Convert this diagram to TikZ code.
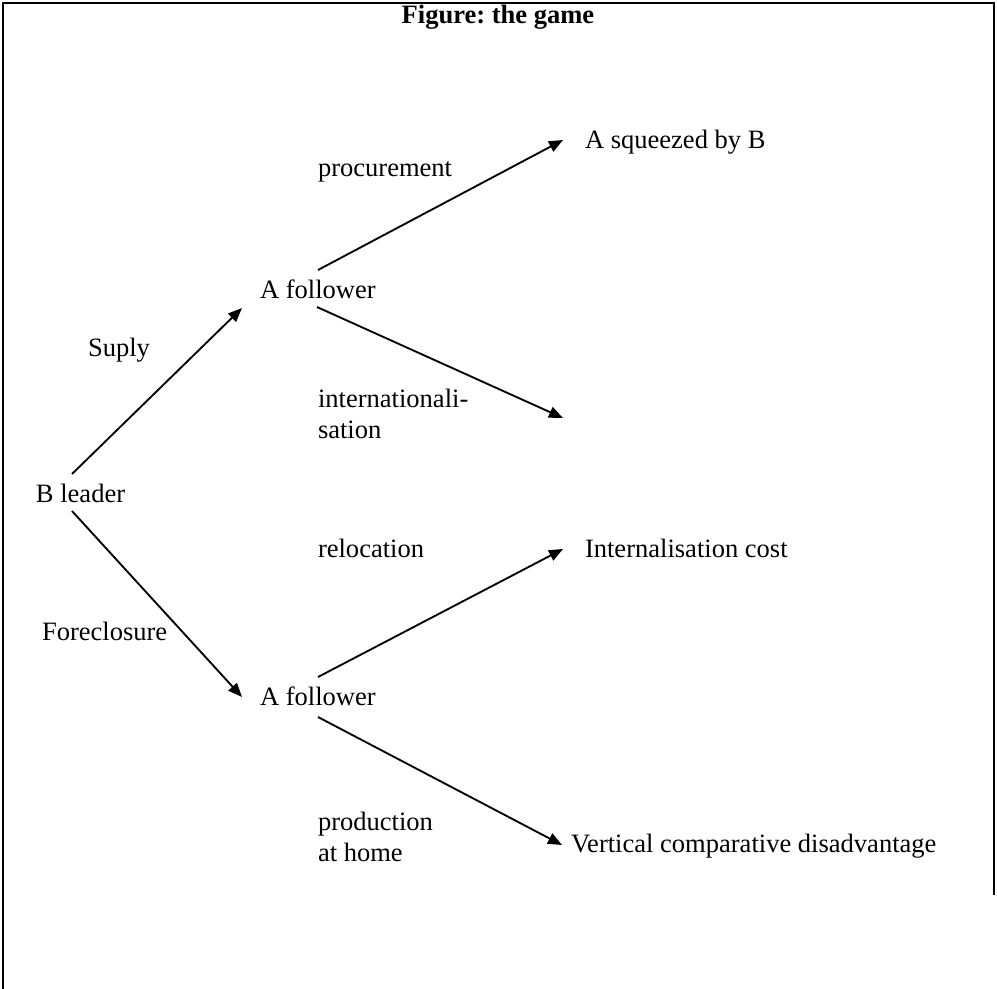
\documentclass[tikz,border=0pt]{standalone}
\usepackage{fontspec}
\setmainfont{Liberation Serif}
\usetikzlibrary{arrows.meta}
\frenchspacing

\begin{document}
\begin{tikzpicture}[x=0.75pt, y=-0.75pt, line width=1.4pt,
    every node/.style={inner sep=0pt, outer sep=0pt, anchor=base west, align=left,
      font=\fontsize{19.9pt}{23.25pt}\selectfont},
    arr/.style={-{Triangle[length=10.5pt, width=8.5pt]}}]
    \useasboundingbox (0, 0) rectangle (997, 989);
    % frame
    \draw[line width=1.6pt] (3, 989) -- (3, 3) -- (994, 3) -- (994, 895);
    \node[anchor=base, font=\bfseries\fontsize{19.9pt}{23.25pt}\selectfont] at (498, 23) (title) {Figure: the game};

    \node at (36, 502)  (bl) {B leader};
    \node at (260, 298) (fa) {A follower};
    \node at (260, 705) (fb) {A follower};
    \node at (585, 148) (sq) {A squeezed by B};
    \node at (585, 557) (ic) {Internalisation cost};
    \node at (571, 852) (vc) {Vertical comparative disadvantage};
    \coordinate (open) at (563, 418);

    % move labels (base = last line)
    \node at (88, 356)  (sup)   {Suply};
    \node at (42, 640)  (fore)  {Foreclosure};
    \node at (318, 176) (proc)  {procurement};
    \node at (318, 438) (intl)  {internationali-\\sation};
    \node at (318, 557) (reloc) {relocation};
    \node at (318, 861) (prod)  {production\\at home};

    \draw[arr] ([shift={(36,-28)}]bl.base west) -- ([shift={(-18,10)}]fa.base west);
    \draw[arr] ([shift={(36,9)}]bl.base west) -- ([shift={(-18,-8)}]fb.base west);
    \draw[arr] ([shift={(58,-28)}]fa.base west) -- ([shift={(-22,-8)}]sq.base west);
    \draw[arr] ([shift={(57,9)}]fa.base west) -- (open);
    \draw[arr] ([shift={(58,-28)}]fb.base west) -- ([shift={(-22,-8)}]ic.base west);
    \draw[arr] ([shift={(58,12)}]fb.base west) -- ([shift={(-9,-7)}]vc.base west);
\end{tikzpicture}
\end{document}
